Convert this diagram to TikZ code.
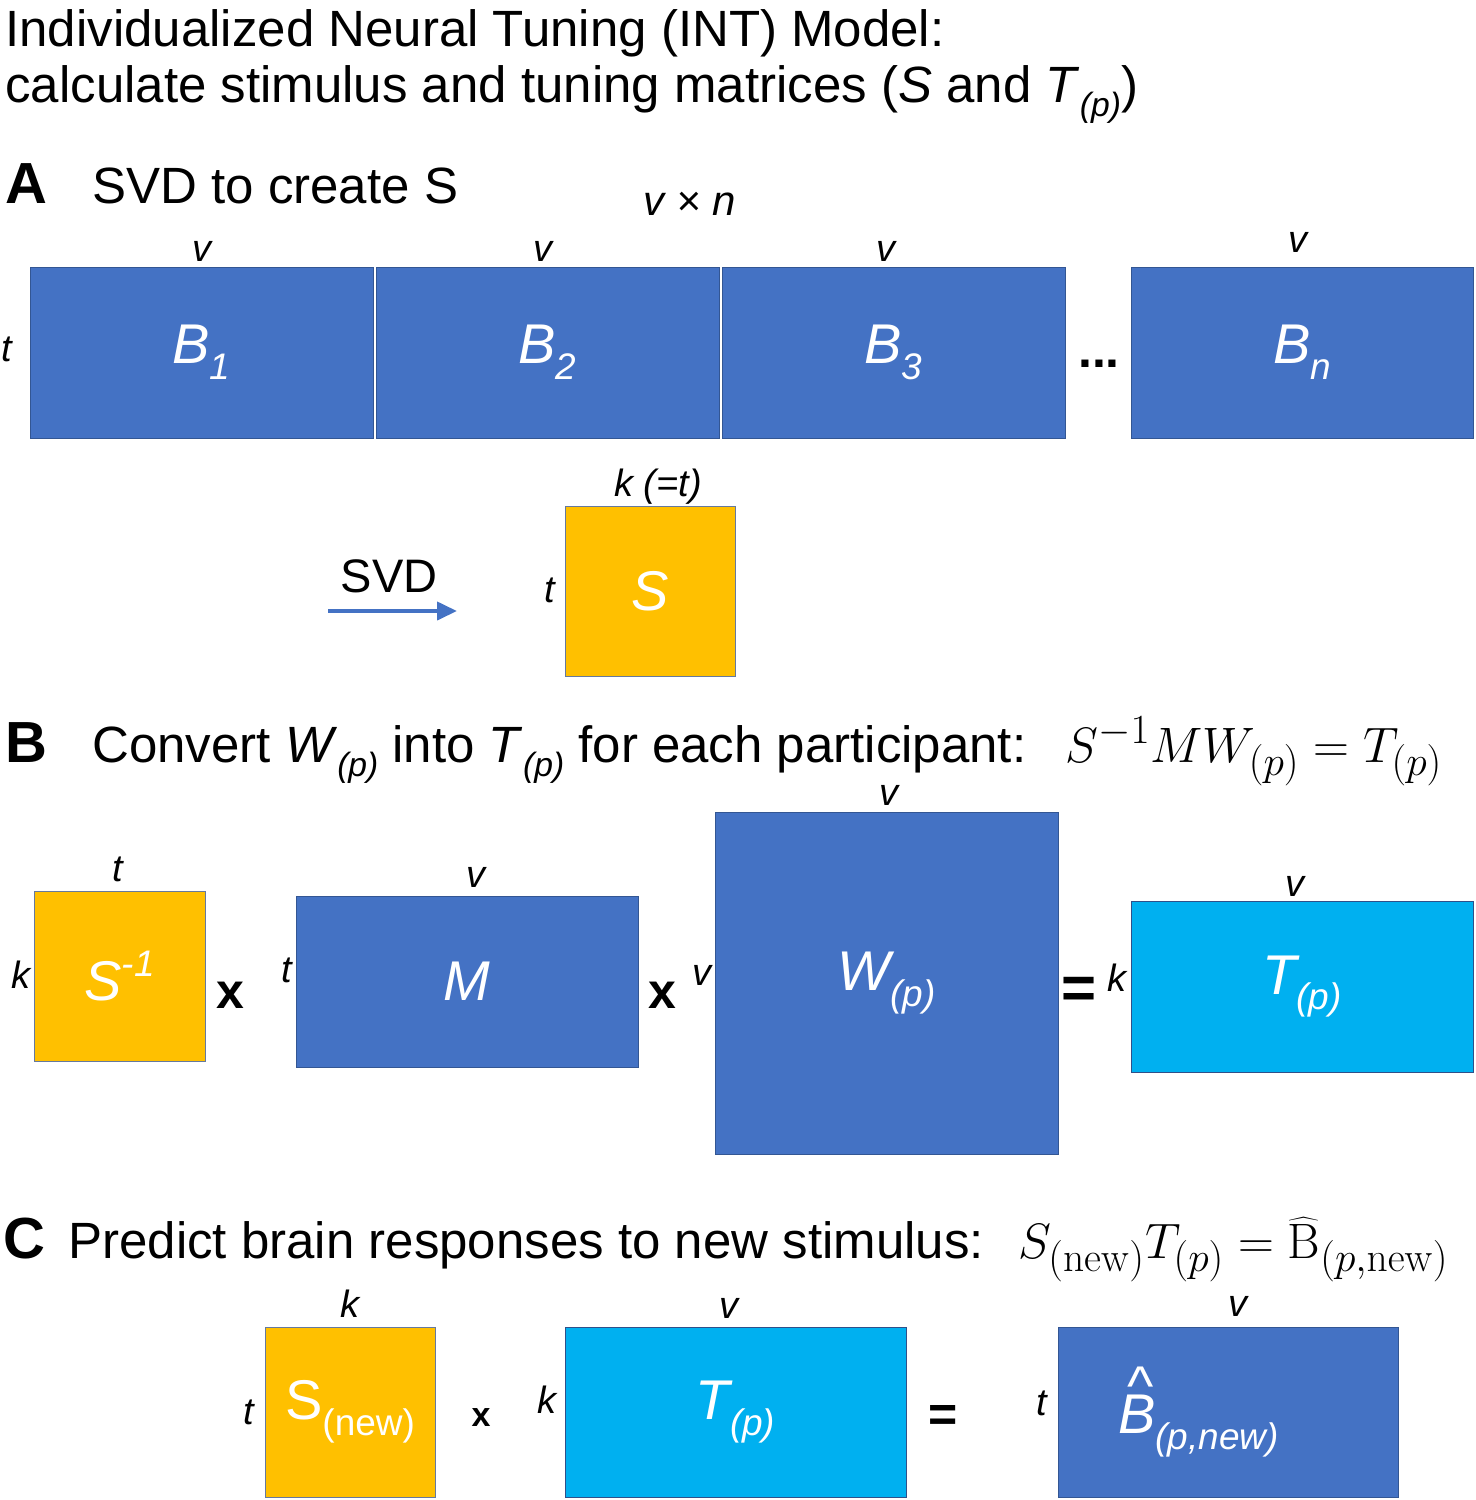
\documentclass[tikz,border=0pt]{standalone}
\usepackage[no-math]{fontspec}
\setmainfont{Liberation Sans}
\usepackage{graphicx}
\usetikzlibrary{calc,arrows.meta}
\definecolor{mblue}{HTML}{4472C4}
\definecolor{myel}{HTML}{FFC000}
\definecolor{mcyan}{HTML}{00B0F0}
\newcommand{\lsub}[1]{\raisebox{-0.28em}{\scalebox{0.66}{#1}}}
\newcommand{\lsup}[1]{\raisebox{0.42em}{\scalebox{0.66}{#1}}}
\begin{document}
\begin{tikzpicture}[x=0.5pt,y=-0.5pt,
  matbase/.style={rectangle, inner sep=0pt, line width=0.5pt, text=white,
    font=\fontsize{28}{30}\selectfont\itshape},
  bluebox/.style={matbase, fill=mblue, draw=mblue!75!black},
  yelbox/.style={matbase, fill=myel, draw=mblue!45!gray},
  cyanbox/.style={matbase, fill=mcyan, draw=mblue!70!black},
  dimlab/.style={font=\fontsize{19}{21}\selectfont\itshape, inner sep=0pt},
  head/.style={font=\fontsize{25.5}{28}\selectfont, inner sep=0pt, anchor=base west},
  panel/.style={font=\fontsize{29}{32}\selectfont\bfseries, inner sep=0pt, anchor=base west},
  op/.style={font=\fontsize{25}{28}\selectfont\bfseries, inner sep=0pt},
  smallop/.style={font=\fontsize{17}{20}\selectfont\bfseries, inner sep=0pt},
  eq/.style={font=\fontsize{24.88}{28}\selectfont, inner sep=0pt, anchor=base west}]
\useasboundingbox (0,0) rectangle (1476,1500);

% Title
\node[head] (title1) at (5,46) {Individualized Neural Tuning (INT) Model:};
\node[head] (title2) at (5,102) {calculate stimulus and tuning matrices (\textit{S} and \textit{T}\lsub{\textit{(p)}})};

% Panel A
\node[panel] (pa) at (5,203) {A};
\node[head] (ha) at (92,203) {SVD to create S};
\node[dimlab, anchor=base, font=\fontsize{21}{23}\selectfont\itshape] (vxn) at (690,215) {v × n};

\node[bluebox, minimum width=171.5pt, minimum height=85.5pt] (b1) at (201.5,352.5) {B\lsub{1}};
\node[bluebox, minimum width=171.5pt, minimum height=85.5pt] (b2) at (547.5,352.5) {B\lsub{2}};
\node[bluebox, minimum width=171.5pt, minimum height=85.5pt] (b3) at (893.5,352.5) {B\lsub{3}};
\node[bluebox, minimum width=171pt, minimum height=85.5pt] (bn) at (1302,352.5) {B\lsub{n}};
\node[font=\fontsize{25}{28}\selectfont\bfseries, inner sep=0pt, anchor=base] (dots) at (1099,367) {...};

\node[dimlab, anchor=base] (vb1) at ($(b1.north)+(0,-5)$) {v};
\node[dimlab, anchor=base] (vb2) at ($(b2.north)+(-5,-5)$) {v};
\node[dimlab, anchor=base] (vb3) at ($(b3.north)+(-8,-5)$) {v};
\node[dimlab, anchor=base] (vbn) at ($(bn.north)+(-4,-14)$) {v};
\node[dimlab, anchor=east] (tb1) at ($(b1.west)+(-17,-3)$) {t};

\node[yelbox, minimum width=85pt, minimum height=85pt] (s) at (650,591) {S};
\node[dimlab, anchor=base] (ks) at ($(s.north)+(8,-9)$) {k (=t)};
\node[dimlab, anchor=east] (ts) at ($(s.west)+(-9,-1)$) {t};

\coordinate (svda) at (328,611);
\coordinate (svdb) at (457,611);
\draw[mblue, line width=2pt, -{Triangle[length=10pt,width=9pt]}] (svda) -- (svdb);
\node[font=\fontsize{23.5}{26}\selectfont, inner sep=0pt, anchor=base] (svdt) at (389,592) {SVD};

% Panel B
\node[panel] (pb) at (5,762) {B};
\node[head] (hb) at (92,762) {Convert \textit{W}\lsub{\textit{(p)}} into \textit{T}\lsub{\textit{(p)}} for each participant:};
\node[eq] (eqb) at (1065,762) {$S^{-1}MW_{(p)}=T_{(p)}$};

\node[yelbox, minimum width=85.5pt, minimum height=85pt] (sinv) at (119.5,976) {S\lsup{-1}};
\node[bluebox, minimum width=171pt, minimum height=85.5pt] (m) at (467,981.5) {M};
\node[bluebox, minimum width=171.5pt, minimum height=171pt] (w) at (886.5,983) {W\lsub{(p)}};
\node[cyanbox, minimum width=171pt, minimum height=85.5pt] (tp) at (1302,986.5) {T\lsub{(p)}};

\node[dimlab, anchor=base] (tsinv) at ($(sinv.north)+(-2,-9)$) {t};
\node[dimlab, anchor=east] (ksinv) at ($(sinv.west)+(-3,-1)$) {k};
\node[dimlab, anchor=base] (vm) at ($(m.north)+(9,-8)$) {v};
\node[dimlab, anchor=east] (tm) at ($(m.west)+(-3,-11)$) {t};
\node[dimlab, anchor=base] (vw) at ($(w.north)+(2,-6)$) {v};
\node[dimlab, anchor=east] (vwl) at ($(w.west)+(-3,-8)$) {v};
\node[dimlab, anchor=base] (vt) at ($(tp.north)+(-7,-4)$) {v};
\node[dimlab, anchor=east] (kt) at ($(tp.west)+(-4,-9)$) {k};

\node[op] (x1) at (230,995) {x};
\node[op] (x2) at (662,995) {x};
\node[op, font=\fontsize{30}{32}\selectfont\bfseries] (eq1) at (1079,993) {=};

% Panel C
\node[panel] (pc) at (3,1258) {C};
\node[head] (hc) at (68,1258) {Predict brain responses to new stimulus:};
\node[eq] (eqc) at (1018,1258) {$S_{(\mathrm{new})}T_{(p)}=\widehat{\mathrm{B}}_{(p,\mathrm{new})}$};

\node[yelbox, minimum width=85pt, minimum height=85pt, font=\fontsize{28}{30}\selectfont\upshape] (snew) at (350,1412) {S\lsub{(new)}};
\node[cyanbox, minimum width=170.5pt, minimum height=85pt] (tp2) at (735.5,1412) {T\lsub{(p)}};
\node[bluebox, minimum width=170pt, minimum height=85pt] (bhat) at (1228,1412)
  {\rlap{\raisebox{0.5em}{\hspace{0.16em}\upshape\textasciicircum}}B\lsub{(p,new)}\hspace*{1.05em}};

\node[dimlab, anchor=base] (ksn) at ($(snew.north)+(0,-9)$) {k};
\node[dimlab, anchor=east] (tsn) at ($(snew.west)+(-10,0)$) {t};
\node[dimlab, anchor=base] (vt2) at ($(tp2.north)+(-7,-8)$) {v};
\node[dimlab, anchor=east] (kt2) at ($(tp2.west)+(-8,-12)$) {k};
\node[dimlab, anchor=base] (vbh) at ($(bhat.north)+(10,-10)$) {v};
\node[dimlab, anchor=east] (tbh) at ($(bhat.west)+(-10,-9)$) {t};

\node[smallop] (x3) at (481,1418) {x};
\node[op] (eq2) at (943,1418) {=};
\end{tikzpicture}
\end{document}
